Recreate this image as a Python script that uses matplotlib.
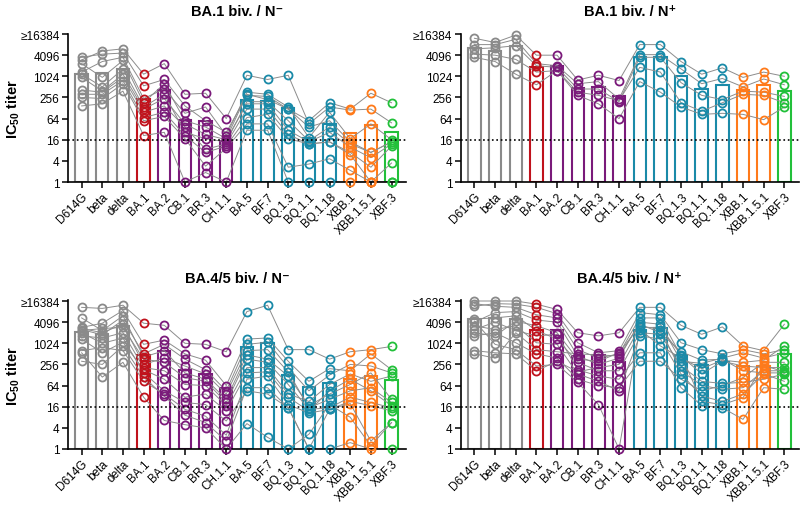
import numpy as np
import matplotlib.pyplot as plt
from matplotlib.ticker import FixedLocator, NullLocator

plt.rcParams['font.family'] = ['Liberation Sans', 'DejaVu Sans']
plt.rcParams['mathtext.fontset'] = 'custom'
plt.rcParams['mathtext.rm'] = 'Liberation Sans'
plt.rcParams['mathtext.bf'] = 'Liberation Sans:bold'

variants = ['D614G', 'beta', 'delta', 'BA.1', 'BA.2', 'CB.1', 'BR.3', 'CH.1.1',
            'BA.5', 'BF.7', 'BQ.1.3', 'BQ.1.1', 'BQ.1.18', 'XBB.1', 'XBB.1.5.1', 'XBF.3']
variant_groups = ['pre'] * 3 + ['BA.1'] + ['BA.2'] * 4 + ['BA.5'] * 5 + ['XBB'] * 2 + ['XBF']
group_colors = {'pre': '#8a8a8a', 'BA.1': '#c0121c', 'BA.2': '#7a1a7a',
                'BA.5': '#1a8aa8', 'XBB': '#ff7a1a', 'XBF': '#22c03a'}

ytick_values = [1, 4, 16, 64, 256, 1024, 4096, 16384]
ytick_labels = ['1', '4', '16', '64', '256', '1024', '4096', '\u226516384']
cutoff = 16

# log2 IC50 titers, one list per variant, same donor order inside each panel
ba1_neg = [
    [11.8, 11.55, 10.4, 11.2, 10.2, 9.9, 8.7, 8.3, 8.0, 7.2],
    [12.1, 12.4, 11.4, 9.9, 9.0, 8.6, 8.5, 8.3, 7.9, 7.4],
    [12.2, 12.6, 11.8, 11.5, 10.7, 10.2, 9.9, 9.6, 9.3, 8.6],
    [9.1, 10.2, 7.9, 7.5, 7.1, 6.9, 6.6, 6.1, 5.8, 4.4],
    [9.7, 11.2, 8.8, 9.3, 8.3, 7.9, 7.2, 6.6, 6.2, 4.7],
    [7.2, 8.3, 6.5, 5.8, 4.7, 5.5, 5.2, 4.4, 4.1, 0],
    [5.8, 8.4, 7.1, 5.2, 4.1, 4.5, 3.1, 2.8, 1.5, 0.9],
    [4.7, 6.0, 4.4, 4.1, 3.8, 4.0, 3.6, 3.4, 3.2, 0],
    [8.2, 10.1, 8.5, 8.3, 7.6, 7.4, 6.9, 6.1, 5.5, 4.9],
    [8.1, 9.7, 8.3, 7.8, 7.6, 7.4, 6.9, 6.4, 5.5, 4.9],
    [6.9, 10.1, 7.1, 6.9, 5.8, 4.9, 4.5, 4.1, 1.4, 0],
    [5.8, 5.5, 4.2, 5.2, 3.9, 3.8, 3.6, 3.6, 1.7, 0],
    [7.5, 7.1, 6.6, 5.8, 5.2, 4.7, 3.8, 3.8, 2.2, 0],
    [6.9, 6.8, 4.1, 3.8, 3.6, 3.3, 2.8, 2.6, 1.1, 0],
    [8.4, 6.9, 5.5, 2.8, 2.8, 2.3, 1.4, 0, 0, 0],
    [7.5, 5.6, 4.0, 3.8, 3.8, 3.6, 3.4, 1.8, 0, 0],
]
ba1_neg_gmt = [10.2, 10.3, 10.7, 7.9, 8.7, 5.9, 5.75, 3.9, 7.8, 7.7, 7.0, 4.2, 5.5, 4.6, 5.4, 4.7]

ba1_pos = [
    [13.6, 13.0, 12.6, 12.1, 11.8],
    [13.2, 13.0, 12.7, 12.0, 11.4],
    [13.9, 13.5, 12.9, 11.6, 10.2],
    [12.0, 11.2, 11.0, 10.4, 9.2],
    [12.0, 11.0, 10.85, 10.55, 10.55],
    [9.65, 9.3, 8.8, 8.5, 8.2],
    [10.1, 9.5, 8.8, 8.2, 7.4],
    [9.6, 7.85, 7.6, 7.7, 6.0],
    [13.0, 12.05, 11.8, 10.85, 9.5],
    [13.0, 12.05, 11.8, 10.4, 8.5],
    [11.4, 10.7, 9.4, 7.5, 7.1],
    [10.2, 9.3, 8.2, 6.7, 6.4],
    [10.8, 9.8, 7.8, 7.5, 6.5],
    [9.9, 9.0, 8.6, 8.3, 6.4],
    [10.4, 9.75, 8.5, 8.2, 5.9],
    [10.0, 9.2, 8.1, 7.5, 7.1],
]
ba1_pos_gmt = [12.65, 12.4, 12.9, 10.9, 11.0, 8.9, 9.0, 8.1, 11.8, 11.8, 10.0, 8.8, 9.2, 8.7, 9.15, 8.65]

ba45_neg = [
    [13.4, 12.4, 11.5, 11.4, 11.3, 11.2, 11.0, 10.7, 10.4, 9.3, 9.1, 8.3],
    [13.3, 11.2, 11.9, 11.0, 10.8, 11.4, 10.0, 10.5, 9.1, 9.6, 6.8, 8.0],
    [13.6, 12.6, 13.1, 11.8, 12.2, 11.5, 10.5, 11.0, 10.1, 9.3, 8.2, 9.75],
    [11.9, 8.7, 9.9, 8.0, 9.0, 8.5, 7.2, 7.7, 7.5, 6.4, 4.9, 6.8],
    [11.7, 9.3, 10.3, 8.6, 9.9, 8.2, 5.5, 7.4, 6.6, 5.2, 2.7, 5.0],
    [10.0, 7.2, 9.0, 7.85, 8.5, 6.75, 4.4, 6.1, 4.9, 3.75, 2.3, 3.2],
    [9.9, 6.6, 8.4, 7.1, 7.5, 6.4, 4.2, 6.0, 5.2, 3.1, 2.0, 2.5],
    [9.2, 4.7, 6.0, 5.2, 5.5, 4.4, 2.65, 4.1, 3.6, 1.3, 0, 0.75],
    [13.0, 8.9, 10.4, 9.3, 9.9, 8.5, 5.5, 7.7, 7.2, 6.6, 2.4, 5.8],
    [13.6, 8.5, 10.5, 9.4, 10.1, 8.2, 5.2, 7.7, 7.3, 6.9, 1.1, 5.8],
    [9.4, 6.9, 8.3, 7.3, 7.7, 6.1, 3.9, 5.2, 4.9, 4.2, 0, 3.9],
    [9.4, 4.1, 6.4, 3.9, 5.5, 3.75, 0, 4.5, 3.6, 3.4, 1.4, 0],
    [8.5, 5.2, 7.6, 4.7, 7.0, 3.9, 0, 6.1, 5.5, 3.75, 4.2, 3.75],
    [9.2, 6.1, 7.4, 5.5, 8.0, 4.9, 0.6, 7.1, 6.6, 4.5, 3.0, 4.3],
    [9.4, 7.2, 9.0, 5.8, 7.85, 4.4, 0, 6.4, 5.5, 4.1, 0.3, 0.75],
    [9.7, 4.7, 7.5, 4.4, 7.2, 3.9, 0, 6.9, 4.1, 3.6, 2.5, 2.5],
]
ba45_neg_gmt = [11.1, 10.85, 11.6, 8.9, 9.3, 7.5, 7.1, 5.75, 9.65, 10.05, 7.0, 5.9, 6.25, 6.6, 6.9, 6.5]

ba45_pos = [
    [14.0, 13.75, 13.5, 12.3, 12.0, 11.65, 11.3, 11.0, 10.7, 12.1, 9.3, 9.0],
    [14.0, 13.5, 13.75, 12.4, 12.9, 11.3, 12.0, 10.7, 11.0, 9.9, 9.1, 8.6],
    [14.0, 13.4, 13.7, 12.6, 13.0, 11.65, 11.2, 12.1, 10.05, 9.4, 9.0, 11.0],
    [13.7, 12.7, 13.4, 11.2, 12.2, 10.05, 10.7, 11.65, 9.0, 7.85, 7.4, 9.4],
    [13.2, 12.4, 12.8, 10.4, 12.0, 9.9, 10.85, 11.0, 8.6, 8.0, 8.3, 9.2],
    [11.0, 9.4, 10.05, 8.2, 8.8, 7.1, 7.5, 8.5, 6.6, 6.3, 7.3, 9.0],
    [10.7, 8.6, 9.1, 7.4, 8.0, 6.4, 6.9, 8.3, 6.0, 4.2, 7.7, 8.9],
    [11.0, 9.0, 9.3, 7.4, 8.6, 5.5, 6.6, 9.1, 5.8, 0, 8.0, 8.8],
    [13.4, 12.4, 12.9, 11.0, 12.0, 10.7, 9.1, 11.65, 8.3, 11.3, 11.5, 11.8],
    [13.4, 12.4, 12.7, 10.85, 11.8, 10.4, 9.1, 11.3, 8.3, 9.75, 11.5, 11.0],
    [11.7, 8.8, 10.05, 7.85, 8.3, 7.1, 5.8, 7.4, 6.6, 8.6, 8.9, 9.2],
    [10.85, 7.1, 9.4, 6.4, 8.1, 5.0, 4.1, 6.0, 5.5, 7.6, 4.5, 8.4],
    [11.55, 8.3, 9.0, 6.2, 8.6, 4.5, 3.9, 5.65, 6.0, 8.4, 4.2, 8.5],
    [9.75, 7.85, 9.4, 6.3, 9.1, 5.2, 2.8, 5.8, 6.75, 8.2, 4.85, 7.4],
    [9.3, 7.7, 9.0, 6.6, 8.6, 7.1, 5.8, 7.4, 8.2, 8.4, 7.9, 7.2],
    [11.8, 7.7, 9.4, 7.1, 9.1, 6.4, 5.65, 7.4, 8.2, 9.75, 7.3, 7.2],
]
ba45_pos_gmt = [12.3, 12.4, 12.3, 11.25, 11.25, 8.8, 8.85, 8.25, 11.3, 11.4, 8.9, 7.95, 8.2, 7.85, 7.85, 8.95]


def draw_panel(ax, title, log2_titers, log2_gmt):
    x = np.arange(len(variants))
    titers = 2.0 ** np.array(log2_titers)
    gmt = 2.0 ** np.array(log2_gmt)
    colors = [group_colors[g] for g in variant_groups]

    ax.bar(x, gmt - 1, bottom=1, width=0.6, facecolor='white',
           edgecolor=colors, linewidth=1.5, zorder=1)
    for donor in titers.T:
        ax.plot(x, donor, color='#8c8c8c', lw=0.7, zorder=2)
    for i in range(len(x)):
        ax.plot(np.full(titers.shape[1], x[i]), titers[i], 'o', mfc='none',
                mec=colors[i], ms=5.8, mew=1.3, zorder=3, clip_on=False)
    ax.axhline(cutoff, color='black', ls=':', lw=1.2, zorder=4)

    ax.set_yscale('log', base=2)
    ax.set_ylim(1, 2 ** 14.05)
    ax.set_xlim(-0.66, 15.7)
    ax.yaxis.set_major_locator(FixedLocator(ytick_values))
    ax.yaxis.set_minor_locator(NullLocator())
    ax.set_yticklabels(ytick_labels)
    ax.set_xticks(x)
    ax.set_xticklabels(variants, rotation=45, ha='right', rotation_mode='anchor')
    ax.tick_params(labelsize=8.5, length=4, width=1.1, pad=2)
    for side in ['top', 'right']:
        ax.spines[side].set_visible(False)
    for side in ['left', 'bottom']:
        ax.spines[side].set_linewidth(1.2)
    ax.set_title(title, fontsize=10.5, fontweight='bold', pad=13)


fig = plt.figure(figsize=(8, 5.06), dpi=100)
w, h = 0.4225, 0.2935
ax1 = fig.add_axes([0.085, 0.6383, w, h])
ax2 = fig.add_axes([0.576, 0.6383, w, h])
ax3 = fig.add_axes([0.085, 0.1107, w, h])
ax4 = fig.add_axes([0.576, 0.1107, w, h])

draw_panel(ax1, 'BA.1 biv. / N\u207b', ba1_neg, ba1_neg_gmt)
draw_panel(ax2, 'BA.1 biv. / N\u207a', ba1_pos, ba1_pos_gmt)
draw_panel(ax3, 'BA.4/5 biv. / N\u207b', ba45_neg, ba45_neg_gmt)
draw_panel(ax4, 'BA.4/5 biv. / N\u207a', ba45_pos, ba45_pos_gmt)

for yc in [0.785, 0.257]:
    fig.text(0.016, yc, r'IC$_{\mathbf{50}}$ titer', rotation=90, fontsize=10.5,
             fontweight='bold', ha='center', va='center')

plt.savefig('out.png', dpi=100)
plt.close()
